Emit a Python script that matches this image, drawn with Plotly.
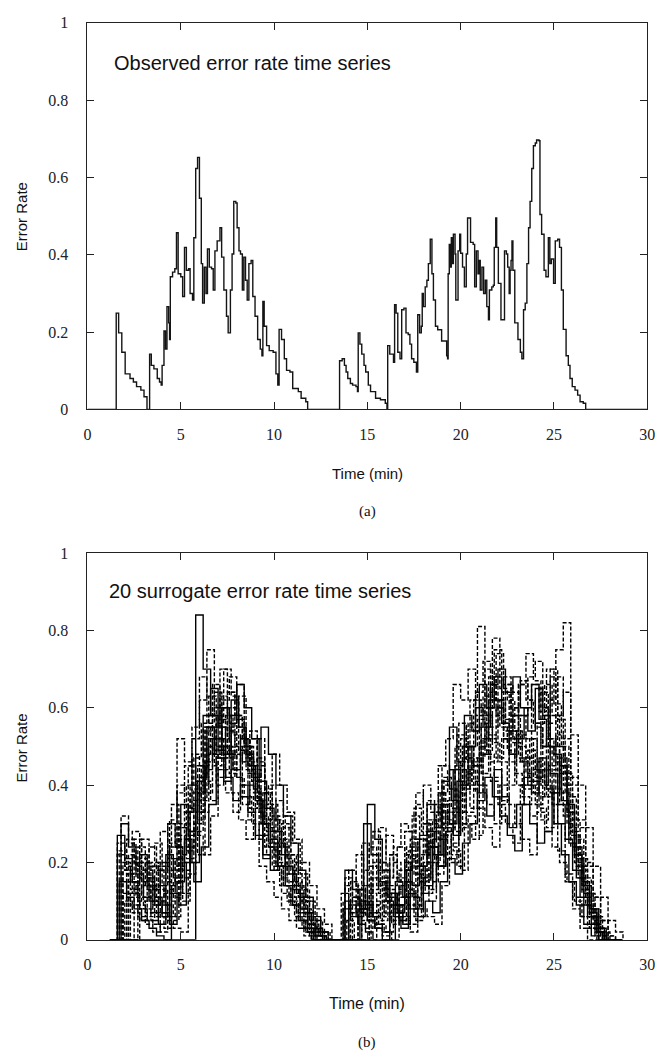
import plotly.graph_objects as go

W, H = 669, 1058

# ---------------- observed error rate (panel a) ----------------
obs_time = [
    0, 1.54, 1.67, 1.84, 2.02, 2.28, 2.46, 2.63, 2.86, 3.03,
    3.19, 3.33, 3.42, 3.56, 3.74, 3.86, 3.95, 4.00, 4.10, 4.18,
    4.26, 4.35, 4.40, 4.44, 4.56, 4.68, 4.77, 4.86, 5.00, 5.10,
    5.20, 5.30, 5.42, 5.50, 5.63, 5.70, 5.80, 5.90, 6.00, 6.10,
    6.17, 6.26, 6.35, 6.43, 6.53, 6.65, 6.74, 6.83, 6.95, 7.10,
    7.19, 7.31, 7.45, 7.54, 7.66, 7.75, 7.84, 7.95, 8.02, 8.12,
    8.20, 8.30, 8.38, 8.47, 8.56, 8.65, 8.77, 8.86, 8.98, 9.12,
    9.26, 9.35, 9.40, 9.47, 9.60, 9.74, 9.95, 10.10, 10.20, 10.27,
    10.40, 10.55, 10.67, 10.85, 11.00, 11.30, 11.45, 11.70, 11.80, 13.51,
    13.65, 13.77, 13.86, 13.95, 14.09, 14.21, 14.39, 14.47, 14.51, 14.60,
    14.70, 14.82, 14.91, 15.05, 15.17, 15.44, 15.70, 15.96, 16.05, 16.09,
    16.20, 16.30, 16.40, 16.46, 16.54, 16.63, 16.75, 16.84, 16.96, 17.07,
    17.19, 17.28, 17.37, 17.49, 17.63, 17.70, 17.80, 17.89, 17.94, 18.00,
    18.10, 18.19, 18.27, 18.37, 18.46, 18.54, 18.65, 18.77, 18.98, 19.16,
    19.25, 19.30, 19.33, 19.39, 19.44, 19.50, 19.56, 19.61, 19.70, 19.74,
    19.82, 19.86, 19.95, 20.00, 20.10, 20.20, 20.30, 20.37, 20.47, 20.53,
    20.67, 20.75, 20.84, 20.93, 21.00, 21.05, 21.14, 21.23, 21.32, 21.40,
    21.49, 21.54, 21.67, 21.75, 21.80, 21.88, 21.93, 22.02, 22.16, 22.28,
    22.35, 22.45, 22.52, 22.60, 22.65, 22.70, 22.75, 22.80, 22.90, 23.07,
    23.20, 23.28, 23.37, 23.46, 23.55, 23.64, 23.72, 23.81, 23.90, 24.00,
    24.07, 24.20, 24.25, 24.34, 24.47, 24.57, 24.70, 24.78, 24.86, 24.98,
    25.07, 25.20, 25.30, 25.40, 25.50, 25.65, 25.77, 25.86, 25.98, 26.13,
    26.27, 26.40, 26.57, 26.70, 30,
]
obs_rate = [
    0, .249, .198, .148, .092, .080, .071, .059, .050, .033,
    0, .143, .114, .105, .080, .071, .063, .114, .203, .156,
    .266, .224, .181, .343, .355, .364, .457, .351, .343, .292,
    .419, .360, .364, .300, .283, .444, .623, .652, .546, .377,
    .275, .368, .300, .415, .368, .364, .309, .410, .436, .470,
    .394, .309, .241, .198, .309, .402, .538, .534, .470, .410,
    .402, .309, .394, .334, .283, .377, .385, .292, .241, .181,
    .156, .139, .279, .215, .165, .152, .148, .092, .063, .207,
    .181, .131, .101, .097, .054, .046, .029, .020, 0, .126,
    .131, .114, .097, .080, .067, .063, .059, .046, .198, .169,
    .143, .114, .097, .063, .046, .029, .025, .016, 0, .165,
    .143, .143, .122, .271, .249, .148, .131, .258, .262, .198,
    .194, .169, .131, .122, .097, .245, .198, .215, .300, .266,
    .317, .334, .377, .440, .351, .283, .215, .206, .177, .177,
    .139, .131, .351, .427, .368, .444, .377, .453, .402, .283,
    .283, .410, .453, .404, .368, .317, .402, .495, .495, .432,
    .427, .317, .410, .351, .385, .309, .368, .300, .334, .266,
    .232, .309, .317, .321, .419, .495, .419, .326, .232, .232,
    .410, .402, .368, .300, .360, .385, .436, .360, .224, .181,
    .148, .131, .258, .275, .377, .470, .538, .623, .682, .689,
    .697, .695, .504, .453, .360, .343, .444, .377, .389, .326,
    .436, .440, .419, .309, .207, .139, .114, .080, .059, .050,
    .037, .020, .016, 0, 0,
]

# ---------------- 20 surrogate series (panel b), error rate in percent ----------------
sur_time_a = [1.2, 1.6, 2.0, 2.4, 2.8, 3.2, 3.6, 4.0, 4.4, 4.8, 5.2, 5.6, 6.0, 6.4, 6.8, 7.2, 7.6, 8.0,
              8.4, 8.8, 9.2, 9.6, 10.0, 10.4, 10.8, 11.2, 11.6, 12.0, 12.4, 12.8, 13.2, 13.6, 14.0, 14.4,
              14.8, 15.2, 15.6, 16.0, 16.4, 16.8, 17.2, 17.6, 18.0, 18.4, 18.8, 19.2, 19.6, 20.0, 20.4,
              20.8, 21.2, 21.6, 22.0, 22.4, 22.8, 23.2, 23.6, 24.0, 24.4, 24.8, 25.2, 25.6, 26.0, 26.4,
              26.8, 27.2, 27.6, 28.0, 28.4]
sur_time_b = [1.4, 1.8, 2.2, 2.6, 3.0, 3.4, 3.8, 4.2, 4.6, 5.0, 5.4, 5.8, 6.2, 6.6, 7.0, 7.4, 7.8, 8.2,
              8.6, 9.0, 9.4, 9.8, 10.2, 10.6, 11.0, 11.4, 11.8, 12.2, 12.6, 13.0, 13.4, 13.8, 14.2, 14.6,
              15.0, 15.4, 15.8, 16.2, 16.6, 17.0, 17.4, 17.8, 18.2, 18.6, 19.0, 19.4, 19.8, 20.2, 20.6,
              21.0, 21.4, 21.8, 22.2, 22.6, 23.0, 23.4, 23.8, 24.2, 24.6, 25.0, 25.4, 25.8, 26.2, 26.6,
              27.0, 27.4, 27.8, 28.2, 28.6]
sur_time_c = [1.3, 1.7, 2.1, 2.5, 2.9, 3.3, 3.7, 4.1, 4.5, 4.9, 5.3, 5.7, 6.1, 6.5, 6.9, 7.3, 7.7, 8.1,
              8.5, 8.9, 9.3, 9.7, 10.1, 10.5, 10.9, 11.3, 11.7, 12.1, 12.5, 12.9, 13.3, 13.7, 14.1, 14.5,
              14.9, 15.3, 15.7, 16.1, 16.5, 16.9, 17.3, 17.7, 18.1, 18.5, 18.9, 19.3, 19.7, 20.1, 20.5,
              20.9, 21.3, 21.7, 22.1, 22.5, 22.9, 23.3, 23.7, 24.1, 24.5, 24.9, 25.3, 25.7, 26.1, 26.5,
              26.9, 27.3, 27.7, 28.1, 28.5]
sur_time_d = [1.5, 1.9, 2.3, 2.7, 3.1, 3.5, 3.9, 4.3, 4.7, 5.1, 5.5, 5.9, 6.3, 6.7, 7.1, 7.5, 7.9, 8.3,
              8.7, 9.1, 9.5, 9.9, 10.3, 10.7, 11.1, 11.5, 11.9, 12.3, 12.7, 13.1, 13.5, 13.9, 14.3, 14.7,
              15.1, 15.5, 15.9, 16.3, 16.7, 17.1, 17.5, 17.9, 18.3, 18.7, 19.1, 19.5, 19.9, 20.3, 20.7,
              21.1, 21.5, 21.9, 22.3, 22.7, 23.1, 23.5, 23.9, 24.3, 24.7, 25.1, 25.5, 25.9, 26.3, 26.7,
              27.1, 27.5, 27.9, 28.3, 28.7]

sur_01 = [0,22,18,12,8,5,14,20,31,38,45,52,68,56,64,52,60,66,50,42,27,22,18,12,9,5,3,0,0,0,
          0,12,8,22,14,9,6,16,24,30,28,35,40,33,45,52,66,62,70,58,63,55,60,66,52,58,68,72,60,48,30,15,8,3,0,0,0,0,0]
sur_02 = [0,0,26,20,15,10,6,3,18,29,40,47,56,63,52,47,58,49,44,38,30,25,19,14,10,6,2,0,0,0,
          0,0,15,10,6,28,20,13,9,5,19,26,22,31,38,44,36,50,62,81,58,51,46,40,53,47,41,56,66,58,45,33,22,14,7,2,0,0,0]
sur_03 = [0,30,24,17,11,7,4,22,16,35,28,41,58,65,55,48,44,52,45,36,22,18,25,19,13,8,4,1,0,0,
          0,18,13,8,35,26,18,12,7,20,14,27,35,29,41,55,46,58,54,66,60,68,56,48,52,60,66,57,50,48,36,25,16,9,4,0,0,0,0]
sur_04 = [0,0,0,20,14,9,28,21,15,10,33,45,38,52,60,54,48,40,34,47,39,31,24,17,11,7,3,0,0,0,
          0,0,0,10,7,4,2,0,14,22,17,12,25,33,42,36,30,44,55,48,62,74,66,58,50,43,38,31,45,53,40,28,19,11,5,1,0,0,0]
sur_05 = [0,0,0,0,0,0,0,0,0,0,0,84,70,58,49,42,36,40,33,27,21,26,19,14,9,5,2,0,0,0,
          0,0,0,8,5,3,0,12,9,18,24,19,28,22,35,30,41,50,45,38,32,44,37,29,35,42,38,47,39,30,22,15,9,4,1,0,0,0,0]
sur_06 = [0,25,19,28,21,15,10,6,25,19,33,48,42,55,49,62,68,57,50,43,36,29,23,30,22,14,8,4,1,0,
          0,0,10,7,18,13,29,22,16,11,8,5,20,15,38,31,27,40,56,64,72,66,60,55,60,67,62,55,50,68,50,38,27,18,10,4,0,0,0]
sur_07 = [0,0,17,12,26,19,13,9,5,30,24,36,45,52,40,48,55,63,50,44,35,40,31,24,18,11,6,2,0,0,
          0,0,0,13,9,6,16,11,7,4,26,19,14,28,22,36,45,39,50,57,49,78,65,62,54,46,52,44,37,50,43,30,20,12,6,2,0,0,0]
sur_08 = [0,18,13,9,6,4,2,13,21,16,27,38,44,55,63,58,50,46,54,46,31,25,20,15,20,13,7,3,0,0,
          0,0,0,0,24,18,12,8,5,15,11,18,13,22,30,25,46,55,62,58,52,60,54,48,66,62,56,50,62,68,52,40,29,19,11,5,1,0,0]
sur_09 = [0,0,22,16,11,20,14,9,6,22,34,28,41,36,50,58,53,46,40,33,27,35,28,21,15,10,5,2,0,0,
          0,16,11,8,5,3,20,14,24,18,32,26,20,35,29,44,53,47,40,55,48,42,36,54,47,40,66,59,70,61,50,37,26,16,8,3,0,0,0]
sur_10 = [0,27,21,15,22,16,11,7,4,15,26,20,42,55,48,60,56,66,60,52,41,34,28,22,17,12,7,3,1,0,
          0,0,9,6,30,22,15,10,6,3,12,8,16,24,19,28,44,40,50,60,55,66,70,64,68,60,54,65,58,43,35,26,18,11,6,2,0,0,0]
sur_11 = [0,0,0,14,10,24,18,12,35,29,23,39,33,58,50,44,38,31,26,37,30,24,19,14,9,5,2,0,0,0,
          0,10,7,5,3,20,14,9,6,4,2,16,12,20,27,33,28,40,34,47,70,62,55,49,43,37,32,46,40,35,45,33,22,13,7,2,0,0,0]
sur_12 = [0,20,15,10,7,19,14,30,24,18,40,33,55,60,70,64,58,52,45,38,24,19,14,10,6,3,1,0,0,0,
          0,0,0,0,12,9,6,4,18,13,9,22,31,26,40,34,29,43,46,56,64,58,52,58,66,74,67,60,52,39,32,24,16,9,4,1,0,0,0]
sur_13 = [0,0,15,11,8,5,20,15,11,26,45,38,55,48,42,50,44,37,31,26,38,31,25,19,14,9,4,1,0,0,
          0,14,10,7,5,3,1,22,16,28,21,15,36,30,45,39,33,47,41,50,60,75,64,54,46,39,44,37,52,46,38,29,21,14,8,3,0,0,0]
sur_14 = [0,0,0,0,18,13,9,6,24,40,33,55,62,75,58,50,43,57,48,41,34,28,22,16,11,7,3,0,0,0,
          0,0,18,13,9,6,4,2,9,6,23,17,30,24,19,33,27,52,44,38,48,41,35,30,25,40,49,42,58,70,57,43,31,21,12,6,2,0,0]
sur_15 = [0,15,11,8,5,3,1,0,12,9,20,15,24,35,47,41,62,55,48,42,55,48,40,32,25,18,11,6,2,0,
          0,8,6,4,2,0,0,0,15,11,8,6,10,7,15,21,17,25,30,36,42,37,32,27,23,35,30,25,28,38,47,35,24,15,8,3,0,0,0]
sur_16 = [0,0,12,24,18,13,9,6,16,12,28,22,46,52,47,64,58,52,46,52,38,32,26,21,15,10,5,2,0,0,
          0,0,0,25,19,14,10,7,5,24,34,28,22,17,26,20,56,50,45,52,68,62,56,64,58,52,46,40,50,58,64,42,31,20,11,5,1,0,0]
sur_17 = [0,32,25,19,14,10,7,5,3,2,17,27,22,32,44,38,33,49,43,36,30,24,19,32,25,17,10,5,2,0,
          0,0,11,8,6,4,2,11,8,15,11,8,6,4,14,24,19,30,26,40,35,30,52,46,40,35,40,34,29,44,36,27,19,12,6,2,0,0,0]
sur_18 = [0,0,10,7,5,16,25,19,14,52,46,40,36,50,45,55,48,42,37,30,19,15,11,8,5,3,1,0,0,0,
          0,0,0,0,0,16,12,27,20,15,11,38,30,24,19,28,23,18,32,27,52,46,62,57,51,46,40,35,44,38,23,17,11,6,3,1,0,0,0]
sur_19 = [0,23,17,26,20,14,10,14,10,27,21,30,40,48,56,70,63,55,47,39,32,26,36,29,22,16,10,5,2,0,
          0,0,0,14,10,7,5,12,9,6,4,19,14,26,35,29,50,44,39,34,29,24,40,35,30,26,22,33,28,24,20,15,10,6,3,0,0,0,0]
sur_20 = [0,12,9,6,4,2,18,30,24,20,38,31,54,66,57,49,42,35,52,45,38,48,40,33,26,20,14,8,4,0,
          0,5,0,0,0,10,7,5,13,9,6,14,10,19,27,22,38,33,47,43,53,47,68,60,53,47,41,64,56,75,82,53,40,29,19,11,5,2,0]

surrogates = [sur_01, sur_02, sur_03, sur_04, sur_05, sur_06, sur_07, sur_08, sur_09, sur_10,
              sur_11, sur_12, sur_13, sur_14, sur_15, sur_16, sur_17, sur_18, sur_19, sur_20]
sur_grid = ['a', 'c', 'b', 'd', 'b', 'a', 'c', 'd', 'b', 'a',
            'c', 'd', 'b', 'a', 'c', 'd', 'b', 'a', 'c', 'd']
sur_solid = [3, 5, 10, 15]
grids = {'a': sur_time_a, 'b': sur_time_b, 'c': sur_time_c, 'd': sur_time_d}

x_ticks = [0, 5, 10, 15, 20, 25, 30]
y_ticks = [0, 0.2, 0.4, 0.6, 0.8, 1]
y_tick_text = ['0', '0.2', '0.4', '0.6', '0.8', '1']

fig = go.Figure()

fig.add_trace(go.Scatter(x=obs_time, y=obs_rate, mode='lines', line_shape='hv',
                         line=dict(color='#141414', width=1.4), xaxis='x', yaxis='y',
                         hoverinfo='skip'))

for i, s in enumerate(surrogates):
    t = grids[sur_grid[i]]
    dash = 'solid' if (i + 1) in sur_solid else '4px,2px'
    fig.add_trace(go.Scatter(x=t, y=[v / 100 for v in s], mode='lines', line_shape='hv',
                             line=dict(color='#000000', width=1.4, dash=dash),
                             xaxis='x2', yaxis='y2', hoverinfo='skip'))


def px(x):
    return x / W


def py(y):
    return 1 - y / H


serif = 'Liberation Serif, Times New Roman, serif'
sans = 'Liberation Sans, Arial, sans-serif'

common_x = dict(range=[0, 30], tickvals=x_ticks, ticks='inside', ticklen=7, tickwidth=1,
                tickcolor='#222', showline=True, linecolor='#222', linewidth=1, mirror='ticks',
                showgrid=False, zeroline=False, ticklabelstandoff=10,
                tickfont=dict(family=serif, size=16, color='#222'))
common_y = dict(range=[0, 1], tickvals=y_ticks, ticktext=y_tick_text, ticks='inside', ticklen=7,
                tickwidth=1, tickcolor='#222', showline=True, linecolor='#222', linewidth=1,
                mirror='ticks', showgrid=False, zeroline=False, ticklabelstandoff=15,
                tickfont=dict(family=serif, size=16, color='#222'))

fig.update_layout(
    width=W, height=H, margin=dict(l=0, r=0, t=0, b=0),
    paper_bgcolor='white', plot_bgcolor='white', showlegend=False,
    xaxis=dict(domain=[px(85), px(655)], anchor='y', **common_x),
    yaxis=dict(domain=[py(408), py(15)], anchor='x', **common_y),
    xaxis2=dict(domain=[px(85), px(655)], anchor='y2', **common_x),
    yaxis2=dict(domain=[py(947), py(554)], anchor='x2', **common_y),
)

annots = [
    dict(text='Observed error rate time series', x=px(110), y=py(56), xanchor='left', yanchor='middle',
         font=dict(family=sans, size=20, color='#111')),
    dict(text='20 surrogate error rate time series', x=px(105), y=py(593), xanchor='left', yanchor='middle',
         font=dict(family=sans, size=20, color='#111')),
    dict(text='Error Rate', x=px(18), y=py(212), textangle=-90, xanchor='center', yanchor='middle',
         font=dict(family=sans, size=15, color='#111')),
    dict(text='Error Rate', x=px(18), y=py(752), textangle=-90, xanchor='center', yanchor='middle',
         font=dict(family=sans, size=15, color='#111')),
    dict(text='Time (min)', x=px(370), y=py(473), xanchor='center', yanchor='middle',
         font=dict(family=sans, size=15, color='#111')),
    dict(text='Time (min)', x=px(370), y=py(1012), xanchor='center', yanchor='middle',
         font=dict(family=sans, size=16, color='#111')),
    dict(text='(a)', x=px(370), y=py(512), xanchor='center', yanchor='middle',
         font=dict(family=serif, size=15, color='#111')),
    dict(text='(b)', x=px(370), y=py(1051), xanchor='center', yanchor='middle',
         font=dict(family=serif, size=15, color='#111')),
]
for a in annots:
    a.update(xref='paper', yref='paper', showarrow=False)
fig.update_layout(annotations=annots)

fig.write_html('out.html', config={'displayModeBar': False, 'staticPlot': True},
               post_script="document.body.style.margin='0';document.body.style.overflow='hidden';")
